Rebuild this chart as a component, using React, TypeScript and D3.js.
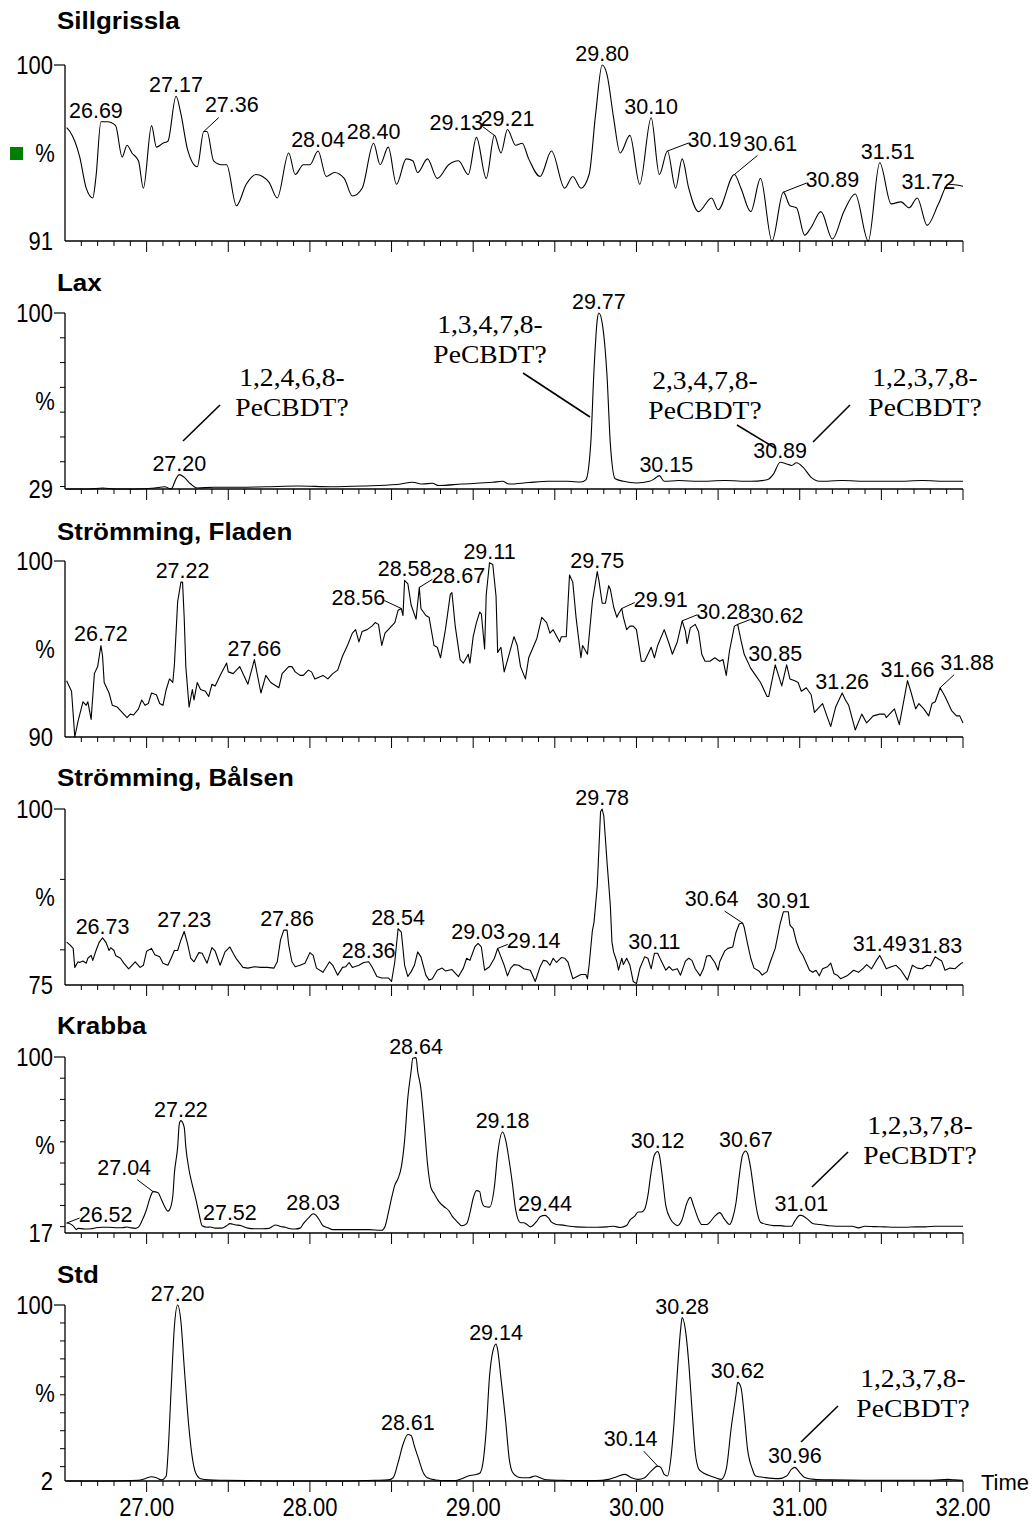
import * as d3 from "d3";

type Pt = [number, number];

// ---- time axis ----
const TIME_MIN = 26.5;
const TIME_MAX = 32.0;
const TIME_LABELS = [27, 28, 29, 30, 31, 32];

// ---- panels ----
const PANEL_NAMES = ["Sillgrissla", "Lax", "Strömming, Fladen", "Strömming, Bålsen", "Krabba", "Std"];
const Y_MINS = [91, 29, 90, 75, 17, 2];

// [retention time, relative intensity %]
const sillgrissla: Pt[] = [
  [26.51, 96.8], [26.53, 96.6], [26.56, 96.1], [26.59, 95.3], [26.63, 93.7], [26.67, 93.2], [26.69, 94.3],
  [26.72, 97.1], [26.76, 97.1], [26.81, 96.9], [26.85, 95.3], [26.88, 95.9], [26.91, 95.5], [26.95, 95.1],
  [26.98, 93.7], [27.03, 96.9], [27.06, 95.8], [27.10, 96.0], [27.13, 96.1], [27.18, 98.4], [27.21, 97.5],
  [27.25, 95.7], [27.31, 94.8], [27.35, 96.6], [27.37, 96.6], [27.41, 95.1], [27.46, 94.9], [27.49, 94.9],
  [27.55, 92.8], [27.61, 93.9], [27.67, 94.4], [27.71, 94.3], [27.75, 94.0], [27.80, 93.2], [27.87, 95.5],
  [27.91, 94.4], [27.96, 94.9], [28.00, 94.9], [28.05, 95.6], [28.10, 94.3], [28.15, 94.5], [28.21, 94.2],
  [28.26, 93.3], [28.32, 93.7], [28.39, 96.0], [28.43, 94.9], [28.48, 95.8], [28.53, 93.9], [28.59, 95.2],
  [28.63, 95.1], [28.66, 94.5], [28.72, 95.2], [28.78, 94.2], [28.85, 94.9], [28.91, 95.1], [28.97, 94.4],
  [29.02, 96.3], [29.08, 94.2], [29.13, 96.4], [29.17, 95.5], [29.21, 96.7], [29.26, 95.9], [29.30, 96.0],
  [29.34, 95.2], [29.41, 94.3], [29.48, 95.6], [29.56, 93.7], [29.61, 94.3], [29.66, 93.7], [29.71, 94.4],
  [29.75, 97.5], [29.79, 100], [29.82, 99.5], [29.86, 97.3], [29.90, 95.5], [29.96, 96.4], [30.02, 93.9],
  [30.09, 97.3], [30.14, 94.4], [30.19, 95.6], [30.24, 93.7], [30.28, 95.2], [30.32, 93.7], [30.38, 92.5],
  [30.46, 93.2], [30.50, 92.6], [30.60, 94.4], [30.64, 93.7], [30.70, 92.5], [30.76, 94.2], [30.83, 91.0],
  [30.90, 93.5], [30.94, 92.8], [30.98, 92.7], [31.03, 91.3], [31.07, 91.7], [31.13, 92.5], [31.20, 91.1],
  [31.27, 92.5], [31.34, 93.4], [31.42, 91.0], [31.49, 95.0], [31.56, 92.9], [31.62, 93.0], [31.67, 92.7],
  [31.72, 93.2], [31.78, 91.8], [31.85, 92.9], [31.91, 93.9], [32.00, 93.8],
];

const lax: Pt[] = [
  [26.51, 29.0], [26.65, 29.0], [26.73, 29.4], [26.81, 29.0], [26.93, 29.0], [27.05, 29.4], [27.11, 29.9],
  [27.15, 29.0], [27.18, 33.1], [27.20, 34.8], [27.23, 33.7], [27.27, 31.0], [27.31, 29.4], [27.41, 29.7],
  [27.57, 29.7], [27.73, 29.9], [27.93, 30.2], [28.13, 29.9], [28.33, 30.2], [28.53, 30.8], [28.63, 31.7],
  [28.69, 31.0], [28.75, 31.3], [28.79, 30.4], [28.93, 31.0], [29.12, 31.7], [29.18, 32.1], [29.22, 31.0],
  [29.34, 31.6], [29.46, 32.1], [29.58, 32.1], [29.66, 31.8], [29.69, 32.7], [29.72, 47.3], [29.74, 77.0],
  [29.76, 97.3], [29.77, 100], [29.79, 96.0], [29.82, 74.3], [29.84, 47.3], [29.87, 33.1], [29.92, 32.1],
  [30.00, 31.4], [30.08, 32.1], [30.11, 33.1], [30.14, 34.4], [30.17, 32.1], [30.26, 32.4], [30.38, 32.1],
  [30.54, 32.4], [30.70, 32.1], [30.80, 32.7], [30.84, 35.1], [30.88, 39.8], [30.92, 39.1], [30.95, 38.5],
  [30.98, 39.6], [31.02, 37.8], [31.07, 33.7], [31.12, 32.1], [31.26, 32.4], [31.42, 32.1], [31.59, 32.1],
  [31.75, 32.4], [31.91, 32.1], [32.00, 32.1],
];

const fladen: Pt[] = [
  [26.51, 93.2], [26.54, 92.6], [26.56, 90.0], [26.58, 90.9], [26.61, 92.0], [26.63, 91.8], [26.64, 92.0],
  [26.66, 91.0], [26.68, 93.6], [26.70, 94.0], [26.72, 95.2], [26.73, 94.6], [26.74, 93.1], [26.77, 92.5],
  [26.79, 91.8], [26.82, 91.7], [26.85, 91.4], [26.88, 91.1], [26.90, 91.3], [26.92, 91.25], [26.95, 91.6],
  [26.97, 92.1], [26.99, 91.8], [27.01, 91.9], [27.03, 92.5], [27.06, 92.4], [27.08, 91.9], [27.10, 91.8],
  [27.12, 92.7], [27.14, 93.3], [27.16, 93.1], [27.17, 94.1], [27.19, 97.7], [27.21, 98.8], [27.22, 98.8],
  [27.23, 96.8], [27.24, 94.0], [27.26, 91.7], [27.28, 92.7], [27.29, 92.1], [27.31, 93.1], [27.33, 92.7],
  [27.36, 92.6], [27.38, 92.3], [27.40, 93.0], [27.42, 92.9], [27.45, 93.5], [27.49, 94.2], [27.50, 93.7],
  [27.53, 93.6], [27.57, 94.0], [27.62, 93.0], [27.66, 94.4], [27.70, 92.5], [27.73, 93.5], [27.76, 93.1],
  [27.81, 92.8], [27.83, 93.6], [27.87, 94.0], [27.89, 94.0], [27.91, 93.7], [27.94, 93.5], [27.96, 93.5],
  [27.99, 93.8], [28.01, 93.7], [28.03, 93.3], [28.08, 93.5], [28.11, 93.3], [28.14, 93.6], [28.17, 93.8],
  [28.20, 94.6], [28.23, 95.2], [28.26, 95.9], [28.28, 96.1], [28.30, 95.4], [28.32, 96.0], [28.35, 96.1],
  [28.38, 96.3], [28.40, 96.5], [28.42, 96.4], [28.44, 95.2], [28.46, 95.9], [28.49, 96.2], [28.52, 96.5],
  [28.54, 97.2], [28.56, 97.3], [28.57, 96.9], [28.58, 98.9], [28.60, 98.7], [28.62, 97.5], [28.65, 96.7],
  [28.67, 98.5], [28.68, 97.3], [28.71, 96.9], [28.73, 96.8], [28.76, 95.2], [28.78, 95.1], [28.80, 94.5],
  [28.83, 96.1], [28.86, 98.1], [28.87, 98.2], [28.89, 96.3], [28.92, 94.4], [28.94, 94.2], [28.97, 94.7],
  [28.98, 94.2], [29.00, 95.7], [29.02, 96.5], [29.04, 97.1], [29.05, 97.0], [29.07, 95.0], [29.08, 98.1],
  [29.10, 99.9], [29.12, 99.8], [29.14, 98.0], [29.15, 94.8], [29.17, 95.1], [29.19, 93.7], [29.22, 94.7],
  [29.25, 95.7], [29.27, 95.2], [29.29, 94.0], [29.32, 93.3], [29.34, 94.5], [29.39, 95.6], [29.42, 96.8],
  [29.45, 96.5], [29.47, 95.9], [29.49, 96.1], [29.53, 95.4], [29.54, 95.7], [29.57, 95.7], [29.59, 99.2],
  [29.61, 98.8], [29.63, 96.8], [29.66, 94.5], [29.67, 95.2], [29.70, 94.7], [29.73, 97.7], [29.76, 99.4],
  [29.77, 98.9], [29.79, 97.6], [29.81, 97.6], [29.83, 98.6], [29.84, 98.4], [29.86, 97.4], [29.88, 96.8],
  [29.89, 97.0], [29.91, 97.3], [29.92, 96.8], [29.94, 96.1], [29.96, 96.3], [29.98, 96.3], [30.00, 96.1],
  [30.03, 94.3], [30.05, 94.3], [30.09, 95.1], [30.11, 94.5], [30.13, 95.2], [30.17, 96.1], [30.20, 95.3],
  [30.22, 94.7], [30.25, 95.4], [30.28, 96.6], [30.30, 96.0], [30.31, 95.3], [30.33, 96.2], [30.36, 96.4],
  [30.38, 96.0], [30.40, 94.7], [30.42, 94.3], [30.45, 94.3], [30.48, 94.5], [30.51, 94.3], [30.53, 94.4],
  [30.55, 93.5], [30.57, 94.9], [30.60, 96.3], [30.62, 96.4], [30.64, 95.5], [30.66, 94.7], [30.70, 93.9],
  [30.73, 93.5], [30.76, 93.1], [30.80, 92.3], [30.81, 92.3], [30.85, 94.1], [30.87, 93.5], [30.89, 92.9],
  [30.92, 94.1], [30.94, 93.3], [30.97, 93.2], [30.99, 93.1], [31.01, 92.6], [31.04, 92.8], [31.07, 92.4],
  [31.09, 91.4], [31.11, 91.6], [31.14, 91.9], [31.17, 91.1], [31.19, 90.6], [31.22, 91.7], [31.26, 92.5],
  [31.28, 92.1], [31.30, 91.8], [31.34, 90.4], [31.38, 91.3], [31.41, 90.8], [31.45, 91.2], [31.49, 91.3],
  [31.52, 91.3], [31.53, 91.1], [31.58, 91.6], [31.61, 90.7], [31.64, 92.2], [31.66, 93.2], [31.68, 92.6],
  [31.71, 91.6], [31.73, 91.9], [31.76, 91.6], [31.79, 91.2], [31.81, 91.9], [31.83, 92.0], [31.86, 92.8],
  [31.89, 92.3], [31.93, 91.5], [31.96, 91.2], [31.98, 91.2], [32.00, 90.8],
];

const balsen: Pt[] = [
  [26.51, 81.1], [26.53, 80.7], [26.55, 80.2], [26.56, 77.5], [26.58, 78.3], [26.59, 78.2], [26.61, 78.4],
  [26.63, 78.1], [26.64, 78.8], [26.66, 79.2], [26.67, 78.5], [26.69, 79.9], [26.71, 81.1], [26.73, 81.7],
  [26.75, 81.1], [26.77, 79.9], [26.78, 80.3], [26.80, 79.9], [26.81, 79.2], [26.84, 78.8], [26.86, 78.1],
  [26.89, 77.3], [26.91, 77.8], [26.93, 78.3], [26.96, 77.5], [26.98, 77.8], [27.00, 79.8], [27.03, 80.2],
  [27.05, 79.3], [27.08, 79.0], [27.10, 78.1], [27.13, 77.8], [27.15, 78.8], [27.17, 79.9], [27.19, 79.9],
  [27.21, 81.4], [27.23, 82.6], [27.25, 80.9], [27.27, 78.8], [27.29, 78.3], [27.32, 79.6], [27.34, 79.5],
  [27.37, 78.1], [27.40, 80.3], [27.42, 79.8], [27.45, 77.8], [27.48, 79.7], [27.51, 80.4], [27.53, 79.5],
  [27.55, 78.7], [27.59, 77.5], [27.62, 77.4], [27.66, 77.6], [27.70, 77.5], [27.74, 77.5], [27.78, 77.4],
  [27.80, 78.3], [27.82, 81.4], [27.84, 82.8], [27.86, 82.8], [27.87, 80.7], [27.89, 78.3], [27.91, 77.6],
  [27.94, 77.8], [27.97, 78.1], [28.00, 79.6], [28.02, 79.2], [28.04, 77.4], [28.08, 76.8], [28.12, 78.3],
  [28.14, 77.8], [28.17, 76.4], [28.20, 77.5], [28.22, 77.6], [28.24, 78.2], [28.26, 77.5], [28.30, 77.8],
  [28.33, 78.2], [28.36, 78.3], [28.38, 77.6], [28.41, 76.2], [28.44, 76.0], [28.48, 76.0], [28.50, 75.5],
  [28.52, 78.3], [28.54, 83.0], [28.56, 82.5], [28.58, 77.8], [28.60, 76.2], [28.62, 76.9], [28.64, 77.8],
  [28.66, 79.7], [28.68, 79.0], [28.71, 76.4], [28.73, 75.7], [28.75, 75.9], [28.78, 77.1], [28.81, 77.4],
  [28.83, 77.0], [28.87, 77.2], [28.91, 76.2], [28.94, 77.4], [28.96, 78.8], [28.98, 78.5], [29.01, 80.4],
  [29.03, 80.9], [29.05, 80.4], [29.07, 77.1], [29.10, 77.6], [29.13, 78.8], [29.15, 80.2], [29.17, 79.0],
  [29.19, 77.8], [29.21, 76.3], [29.23, 77.4], [29.25, 77.9], [29.28, 77.8], [29.31, 77.3], [29.35, 77.1],
  [29.38, 75.5], [29.41, 77.6], [29.43, 78.5], [29.45, 78.4], [29.47, 77.8], [29.49, 78.8], [29.51, 78.2],
  [29.54, 78.9], [29.56, 78.8], [29.58, 78.3], [29.61, 75.9], [29.66, 76.5], [29.69, 76.5], [29.70, 75.9],
  [29.71, 77.8], [29.73, 82.7], [29.74, 83.9], [29.76, 89.1], [29.78, 99.6], [29.79, 100], [29.80, 99.0],
  [29.82, 92.4], [29.84, 86.3], [29.85, 81.1], [29.86, 79.7], [29.88, 78.3], [29.89, 77.1], [29.91, 78.8],
  [29.92, 77.9], [29.94, 78.8], [29.96, 77.8], [29.98, 75.5], [30.00, 75.2], [30.02, 77.3], [30.05, 79.0],
  [30.07, 78.8], [30.09, 77.3], [30.11, 79.5], [30.13, 79.5], [30.15, 78.5], [30.18, 77.1], [30.20, 77.6],
  [30.22, 77.1], [30.25, 77.3], [30.27, 76.4], [30.30, 78.4], [30.32, 78.8], [30.34, 78.5], [30.36, 77.3],
  [30.39, 76.3], [30.41, 77.3], [30.43, 79.1], [30.45, 79.2], [30.48, 78.2], [30.50, 77.1], [30.51, 78.3],
  [30.54, 79.8], [30.56, 80.2], [30.59, 80.4], [30.61, 82.5], [30.63, 83.7], [30.65, 83.8], [30.66, 83.2],
  [30.68, 80.9], [30.70, 78.8], [30.72, 77.4], [30.75, 77.0], [30.77, 76.4], [30.80, 76.9], [30.82, 78.3],
  [30.85, 80.2], [30.88, 83.7], [30.90, 85.4], [30.93, 85.4], [30.94, 83.5], [30.96, 83.0], [30.98, 81.1],
  [31.00, 79.9], [31.02, 79.2], [31.06, 77.1], [31.08, 76.8], [31.10, 77.1], [31.12, 76.3], [31.14, 77.3],
  [31.17, 77.6], [31.19, 78.1], [31.21, 76.6], [31.23, 76.4], [31.25, 75.9], [31.29, 76.3], [31.33, 77.1],
  [31.36, 76.8], [31.39, 77.4], [31.41, 77.9], [31.44, 77.3], [31.47, 78.5], [31.49, 79.2], [31.51, 78.3],
  [31.53, 77.3], [31.56, 77.6], [31.59, 77.8], [31.62, 77.1], [31.66, 75.7], [31.69, 77.8], [31.72, 77.4],
  [31.75, 77.3], [31.78, 77.8], [31.80, 77.7], [31.83, 79.0], [31.85, 78.7], [31.87, 78.4], [31.89, 77.1],
  [31.92, 77.4], [31.95, 77.3], [31.97, 77.7], [31.99, 78.1], [32.00, 78.2],
];

const krabba: Pt[] = [
  [26.51, 21.7], [26.53, 21.4], [26.55, 20.4], [26.57, 18.6], [26.58, 19.2], [26.62, 18.9], [26.66, 19.0],
  [26.69, 19.5], [26.73, 19.7], [26.77, 19.7], [26.82, 19.5], [26.85, 19.5], [26.88, 19.8], [26.90, 19.5],
  [26.93, 19.2], [26.95, 19.8], [26.97, 22.5], [27.00, 28.2], [27.02, 33.4], [27.04, 36.5], [27.07, 36.0],
  [27.09, 32.9], [27.11, 29.5], [27.13, 27.3], [27.14, 27.9], [27.16, 34.2], [27.17, 45.1], [27.19, 57.6],
  [27.20, 68.5], [27.21, 70.0], [27.23, 66.9], [27.24, 57.6], [27.26, 46.6], [27.28, 39.6], [27.30, 33.4],
  [27.32, 26.4], [27.34, 20.4], [27.37, 19.7], [27.39, 19.8], [27.42, 19.3], [27.46, 19.3], [27.49, 20.4],
  [27.51, 21.4], [27.54, 20.9], [27.58, 20.4], [27.62, 19.3], [27.66, 19.0], [27.71, 19.0], [27.75, 19.2],
  [27.77, 20.1], [27.79, 20.8], [27.82, 20.1], [27.85, 19.7], [27.88, 19.0], [27.91, 18.9], [27.94, 19.3],
  [27.96, 21.4], [27.99, 24.0], [28.02, 26.1], [28.03, 25.8], [28.06, 22.9], [28.08, 20.4], [28.11, 19.5],
  [28.14, 18.6], [28.24, 18.6], [28.36, 18.6], [28.44, 18.3], [28.46, 20.1], [28.48, 26.4], [28.50, 33.4],
  [28.52, 39.6], [28.54, 42.7], [28.56, 48.2], [28.58, 60.7], [28.60, 81.0], [28.62, 93.4], [28.63, 99.4],
  [28.65, 99.7], [28.66, 93.4], [28.68, 84.9], [28.70, 68.5], [28.72, 49.8], [28.74, 38.8], [28.76, 35.7],
  [28.79, 31.8], [28.82, 29.5], [28.85, 27.6], [28.87, 25.1], [28.90, 22.5], [28.93, 20.4], [28.96, 21.4],
  [28.98, 26.4], [29.00, 33.4], [29.02, 37.0], [29.04, 36.5], [29.05, 32.6], [29.07, 29.5], [29.10, 29.2],
  [29.13, 38.8], [29.15, 54.4], [29.18, 64.6], [29.20, 60.4], [29.22, 51.3], [29.24, 40.4], [29.26, 28.0],
  [29.29, 21.8], [29.31, 21.8], [29.33, 21.0], [29.35, 19.9], [29.39, 22.6], [29.41, 24.7], [29.44, 25.3],
  [29.46, 24.2], [29.48, 22.1], [29.51, 21.0], [29.55, 20.7], [29.59, 20.2], [29.63, 19.9], [29.70, 19.7],
  [29.76, 19.7], [29.82, 19.9], [29.86, 20.2], [29.90, 19.6], [29.94, 20.5], [29.96, 23.1], [29.99, 25.0],
  [30.01, 26.9], [30.03, 26.9], [30.05, 28.2], [30.07, 34.6], [30.09, 45.8], [30.11, 53.8], [30.13, 55.4],
  [30.14, 53.8], [30.16, 42.6], [30.18, 29.8], [30.21, 23.4], [30.23, 21.5], [30.25, 20.5], [30.28, 23.4],
  [30.31, 31.4], [30.33, 33.8], [30.35, 29.8], [30.38, 23.4], [30.40, 21.0], [30.43, 21.0], [30.45, 22.1],
  [30.48, 25.0], [30.51, 26.6], [30.54, 23.4], [30.57, 21.0], [30.59, 24.2], [30.61, 31.4], [30.63, 44.2],
  [30.65, 53.8], [30.67, 55.7], [30.68, 54.6], [30.70, 47.4], [30.72, 36.2], [30.74, 26.6], [30.76, 22.1],
  [30.80, 21.0], [30.84, 20.5], [30.88, 20.5], [30.91, 20.2], [30.95, 20.2], [30.97, 22.6], [31.00, 25.3],
  [31.01, 25.3], [31.05, 23.4], [31.08, 21.5], [31.12, 21.0], [31.17, 20.5], [31.22, 20.2], [31.32, 20.2],
  [31.36, 19.4], [31.40, 20.2], [31.46, 20.0], [31.52, 19.9], [31.58, 19.7], [31.65, 19.7], [31.71, 19.9],
  [31.77, 19.9], [31.83, 20.2], [31.90, 20.2], [31.96, 20.2], [32.00, 20.2],
];

const std: Pt[] = [
  [26.51, 2.0], [26.77, 2.0], [26.95, 2.4], [26.99, 3.3], [27.03, 4.4], [27.06, 3.8], [27.09, 2.6],
  [27.12, 4.8], [27.13, 15.9], [27.15, 52.8], [27.17, 88.0], [27.19, 100], [27.21, 90.7], [27.23, 65.8],
  [27.26, 30.7], [27.28, 14.9], [27.30, 6.6], [27.33, 3.3], [27.38, 2.6], [27.48, 2.4], [27.62, 2.2],
  [27.79, 2.0], [27.99, 2.0], [28.20, 2.0], [28.40, 2.4], [28.48, 2.6], [28.51, 3.8], [28.54, 12.2],
  [28.57, 22.3], [28.60, 27.9], [28.62, 27.3], [28.64, 21.4], [28.67, 13.1], [28.69, 7.5], [28.72, 3.8],
  [28.77, 2.6], [28.83, 2.2], [28.89, 2.2], [28.93, 3.3], [28.97, 4.8], [29.01, 5.5], [29.04, 6.3],
  [29.06, 12.2], [29.08, 30.6], [29.10, 60.2], [29.12, 74.1], [29.14, 78.3], [29.15, 75.0], [29.17, 59.3],
  [29.20, 34.3], [29.22, 14.9], [29.24, 7.0], [29.27, 4.4], [29.30, 3.8], [29.34, 3.8], [29.38, 4.8],
  [29.41, 3.8], [29.45, 2.7], [29.54, 2.4], [29.65, 2.2], [29.75, 2.2], [29.83, 2.9], [29.88, 4.4],
  [29.93, 5.7], [29.97, 3.8], [30.01, 2.9], [30.05, 3.8], [30.09, 7.5], [30.13, 10.3], [30.15, 9.4],
  [30.17, 5.7], [30.19, 4.8], [30.21, 14.0], [30.23, 34.3], [30.25, 62.0], [30.27, 86.0], [30.28, 93.0],
  [30.30, 86.0], [30.32, 68.0], [30.34, 42.0], [30.36, 18.0], [30.38, 9.0], [30.40, 7.1], [30.44, 5.2],
  [30.48, 3.9], [30.52, 2.9], [30.55, 8.6], [30.58, 31.4], [30.61, 50.3], [30.62, 56.9], [30.64, 54.1],
  [30.66, 38.9], [30.68, 20.0], [30.71, 8.6], [30.73, 4.8], [30.79, 3.9], [30.87, 3.3], [30.92, 4.8],
  [30.95, 8.6], [30.97, 9.6], [31.00, 6.7], [31.03, 3.9], [31.09, 2.9], [31.19, 2.6], [31.40, 2.4],
  [31.60, 2.4], [31.81, 2.4], [31.91, 2.9], [31.95, 2.6], [32.00, 2.4],
];

// ---- peak labels (retention times as printed) ----
const sillgrisslaPeaks = ["26.69", "27.17", "27.36", "28.04", "28.40", "29.13", "29.21", "29.80", "30.10", "30.19", "30.61", "30.89", "31.51", "31.72"];
const laxPeaks = ["27.20", "29.77", "30.15", "30.89"];
const fladenPeaks = ["26.72", "27.22", "27.66", "28.56", "28.58", "28.67", "29.11", "29.75", "29.91", "30.28", "30.62", "30.85", "31.26", "31.66", "31.88"];
const balsenPeaks = ["26.73", "27.23", "27.86", "28.36", "28.54", "29.03", "29.14", "29.78", "30.11", "30.64", "30.91", "31.49", "31.83"];
const krabbaPeaks = ["26.52", "27.04", "27.22", "27.52", "28.03", "28.64", "29.18", "29.44", "30.12", "30.67", "31.01"];
const stdPeaks = ["27.20", "28.61", "29.14", "30.14", "30.28", "30.62", "30.96"];

// ---- compound annotations ----
const NOTE_FIRST = ["1,2,4,6,8-", "1,3,4,7,8-", "2,3,4,7,8-", "1,2,3,7,8-", "1,2,3,7,8-", "1,2,3,7,8-"];
const NOTE_SECOND = "PeCBDT?";
const NOTE_PANEL = [1, 1, 1, 1, 4, 5];

const SERIES = [sillgrissla, lax, fladen, balsen, krabba, std];
const PEAKS = [sillgrisslaPeaks, laxPeaks, fladenPeaks, balsenPeaks, krabbaPeaks, stdPeaks];
const SMOOTH = [true, true, false, false, true, true];

// ---- layout ----
const W = 1032;
const H = 1522;
const LEFT = 65;
const RIGHT = 963;
const TOP0 = 65;
const PITCH = 248;
const PH = 176;
const TITLE_Y = [29, 291, 540, 786, 1034, 1283];
const SANS = "'Liberation Sans', Arial, Helvetica, sans-serif";
const SERIF = "'Liberation Serif', 'Times New Roman', serif";

// label offset from peak apex to label (center, baseline); leader style
type Shift = [number, number, "none" | "side" | "under"];
const SHIFTS: Record<string, Shift> = {
  "0:26.69": [-5, -4, "none"],
  "0:27.36": [28, -19, "under"],
  "0:29.13": [-38, -5, "side"],
  "0:30.19": [47, -4, "side"],
  "0:30.61": [36, -24, "under"],
  "0:30.89": [49, -5, "side"],
  "0:31.51": [8, -4, "none"],
  "0:31.72": [11, -9, "none"],
  "1:30.15": [7, -4, "none"],
  "2:28.56": [-43, -4, "side"],
  "2:28.67": [39, -4, "side"],
  "2:29.91": [39, -2, "side"],
  "2:30.28": [41, -2, "side"],
  "2:30.62": [39, -1, "side"],
  "2:31.88": [27, -18, "under"],
  "3:29.14": [36, 0, "side"],
  "3:30.64": [-31, -17, "under"],
  "4:26.52": [39, -1, "side"],
  "4:27.04": [-29, -17, "under"],
  "5:30.14": [-27, -20, "under"],
};
const LABEL_HALF = 26;

// note position: text center x, first-line center y (from panel top), leader x1,y1,x2,y2
const NOTE_POS: [number, number, number, number, number, number][] = [
  [292, 64, 220, 92, 183, 128],
  [490, 11, 523, 60, 590, 104],
  [705, 67, 737, 112, 775, 135],
  [925, 64, 850, 92, 813, 129],
  [920, 68, 848, 95, 812, 130],
  [913, 73, 838, 101, 801, 137],
];

const x = d3.scaleLinear().domain([TIME_MIN, TIME_MAX]).range([LEFT, RIGHT]);

function apexOf(data: Pt[], t: number): Pt {
  let k = d3.minIndex(data, (d) => Math.abs(d[0] - t));
  for (;;) {
    if (k > 0 && data[k - 1][1] > data[k][1]) k--;
    else if (k < data.length - 1 && data[k + 1][1] > data[k][1]) k++;
    else break;
  }
  return data[k];
}

function Panel({ i }: { i: number }) {
  const top = TOP0 + i * PITCH;
  const bottom = top + PH;
  const yMin = Y_MINS[i];
  const data = SERIES[i];
  const y = d3.scaleLinear().domain([yMin, 100]).range([bottom, top]);
  const line = d3
    .line<Pt>()
    .x((d) => x(d[0]))
    .y((d) => y(d[1]))
    .curve(SMOOTH[i] ? d3.curveMonotoneX : d3.curveLinear);

  const yTicks = d3.range(Math.floor(yMin / 10) * 10 + 10, 100, 10).filter((v) => v > yMin);
  const xTicks = d3.range(266, 321).map((k) => k / 10);

  return (
    <g>
      <text
        transform={`translate(57,${TITLE_Y[i]}) scale(1.13,1)`}
        fontFamily={SANS}
        fontWeight="bold"
        fontSize={23}
      >
        {PANEL_NAMES[i]}
      </text>

      {/* axes */}
      <line x1={LEFT} x2={LEFT} y1={top} y2={bottom} stroke="#000" strokeWidth={1.3} />
      <line x1={LEFT} x2={RIGHT} y1={bottom} y2={bottom} stroke="#000" strokeWidth={1.3} />
      <line x1={LEFT - 11} x2={LEFT} y1={top} y2={top} stroke="#000" strokeWidth={1.2} />
      {yTicks.map((v) => (
        <line key={v} x1={LEFT - 5} x2={LEFT} y1={y(v)} y2={y(v)} stroke="#000" strokeWidth={1} />
      ))}
      {xTicks.map((t) => {
        const major = Math.abs(t * 2 - Math.round(t * 2)) < 1e-6;
        return (
          <line
            key={t}
            x1={x(t)}
            x2={x(t)}
            y1={bottom}
            y2={bottom + (major ? 11 : 5)}
            stroke="#000"
            strokeWidth={1}
          />
        );
      })}
      <text
        transform={`translate(53,${top}) scale(0.88,1)`}
        dy="0.36em"
        textAnchor="end"
        fontFamily={SANS}
        fontSize={25}
      >
        100
      </text>
      <text
        transform={`translate(53,${bottom}) scale(0.88,1)`}
        dy="0.36em"
        textAnchor="end"
        fontFamily={SANS}
        fontSize={25}
      >
        {yMin}
      </text>
      <text
        transform={`translate(45,${(top + bottom) / 2}) scale(0.88,1)`}
        dy="0.36em"
        textAnchor="middle"
        fontFamily={SANS}
        fontSize={25}
      >
        %
      </text>

      {/* trace */}
      <path d={line(data) ?? ""} fill="none" stroke="#000" strokeWidth={1.1} strokeLinejoin="round" />

      {/* peak labels */}
      {PEAKS[i].map((lab) => {
        const [pt, pv] = apexOf(data, parseFloat(lab));
        const ax = x(pt);
        const ay = y(pv);
        const sh = SHIFTS[`${i}:${lab}`] ?? [0, -4, "none"];
        const cx = ax + sh[0];
        const by = ay + sh[1];
        const s = Math.sign(sh[0]);
        let leader: [number, number] | null = null;
        if (sh[2] === "side") leader = [cx - s * LABEL_HALF, by - 4];
        if (sh[2] === "under") leader = [cx - s * LABEL_HALF * 0.5, by + 5];
        return (
          <g key={lab}>
            {leader && (
              <line x1={ax} y1={ay} x2={leader[0]} y2={leader[1]} stroke="#000" strokeWidth={1} />
            )}
            <text x={cx} y={by} textAnchor="middle" fontFamily={SANS} fontSize={21.5}>
              {lab}
            </text>
          </g>
        );
      })}
    </g>
  );
}

export default function App() {
  return (
    <svg
      width={W}
      height={H}
      viewBox={`0 0 ${W} ${H}`}
      style={{ position: "absolute", left: 0, top: 0, display: "block" }}
    >
      <rect width={W} height={H} fill="#fff" />
      {PANEL_NAMES.map((_, i) => (
        <Panel key={i} i={i} />
      ))}

      {/* marker next to first panel */}
      <rect x={10} y={147} width={13} height={13} fill="#008000" />

      {/* compound annotations */}
      {NOTE_POS.map(([cx, cy, x1, y1, x2, y2], k) => {
        const top = TOP0 + NOTE_PANEL[k] * PITCH;
        return (
          <g key={k}>
            <text
              transform={`translate(${cx},${top + cy}) scale(1.06,1)`}
              dy="0.35em"
              textAnchor="middle"
              fontFamily={SERIF}
              fontSize={26}
            >
              {NOTE_FIRST[k]}
            </text>
            <text
              transform={`translate(${cx},${top + cy + 30}) scale(1.06,1)`}
              dy="0.35em"
              textAnchor="middle"
              fontFamily={SERIF}
              fontSize={26}
            >
              {NOTE_SECOND}
            </text>
            <line x1={x1} y1={top + y1} x2={x2} y2={top + y2} stroke="#000" strokeWidth={1.6} />
          </g>
        );
      })}

      {/* time axis labels */}
      {TIME_LABELS.map((t) => (
        <text
          key={t}
          transform={`translate(${x(t)},1516) scale(0.88,1)`}
          textAnchor="middle"
          fontFamily={SANS}
          fontSize={25}
        >
          {t.toFixed(2)}
        </text>
      ))}
      <text x={981} y={1490} fontFamily={SANS} fontSize={22}>
        Time
      </text>
    </svg>
  );
}
